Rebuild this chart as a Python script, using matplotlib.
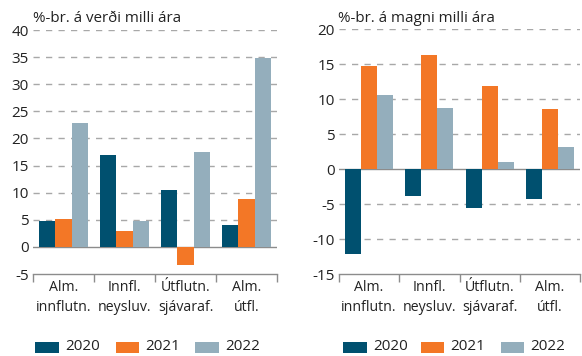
import matplotlib
matplotlib.use("Agg")
import matplotlib.pyplot as plt
import numpy as np
from matplotlib.patches import Rectangle

plt.rcParams['font.family'] = ['Open Sans', 'DejaVu Sans']

categories = ["Alm.\ninnflutn.", "Innfl.\nneysluv.", "Útflutn.\nsjávaraf.", "Alm.\nútfl."]
years = ["2020", "2021", "2022"]

# Price change, % year on year
price_2020 = [4.8, 17.0, 10.5, 4.0]
price_2021 = [5.1, 2.9, -3.3, 8.8]
price_2022 = [22.9, 4.8, 17.5, 34.8]

# Volume change, % year on year
volume_2020 = [-12.2, -3.8, -5.5, -4.3]
volume_2021 = [14.8, 16.3, 11.9, 8.6]
volume_2022 = [10.6, 8.8, 1.0, 3.1]

colors = ["#00506F", "#F37726", "#94AEBC"]
text_color = "#222222"
grid_color = "#A8A8A8"
axis_color = "#8C8C8C"

W, H = 582, 356
fig = plt.figure(figsize=(W / 100, H / 100), dpi=100)


def px_axes(x0, x1, y0, y1):
    return fig.add_axes([x0 / W, 1 - y1 / H, (x1 - x0) / W, (y1 - y0) / H])


def draw_legend(patch_x, y_center):
    # legend row drawn in figure pixel coordinates
    for i, x0 in enumerate(patch_x):
        fig.add_artist(Rectangle((x0 / W, 1 - (y_center + 5.5) / H), 23.5 / W, 11 / H,
                                 transform=fig.transFigure, facecolor=colors[i],
                                 edgecolor="none"))
        fig.text((x0 + 30) / W, 1 - y_center / H, years[i], ha="left", va="center",
                 fontsize=11, color=text_color)


def draw_panel(ax, series, ymin, ymax, step, title, title_x):
    n = len(categories)
    x = np.arange(n)
    bw = 0.8 / 3
    for i, vals in enumerate(series):
        ax.bar(x + (i - 1) * bw, vals, width=bw, color=colors[i], zorder=3, linewidth=0)
    ax.set_xlim(-0.5, n - 0.5)
    ax.set_ylim(ymin, ymax)
    ticks = np.arange(ymin, ymax + 0.1, step)
    ax.set_yticks(ticks)
    ax.set_yticklabels([f"{int(t)}" for t in ticks])
    for t in ticks:
        if t == ymin:
            continue
        if t == 0:
            ax.axhline(0, color=axis_color, lw=1.0, zorder=2)
        else:
            ax.axhline(t, color=grid_color, lw=1.0, ls=(0, (4.5, 4.5)), zorder=1)
    for s in ["top", "right", "left"]:
        ax.spines[s].set_visible(False)
    ax.spines["bottom"].set_color(axis_color)
    ax.spines["bottom"].set_linewidth(1.0)
    ax.tick_params(axis="y", length=0, pad=3, labelsize=11, colors=text_color)
    # category separators as ticks on the bottom axis
    ax.set_xticks(np.arange(-0.5, n, 1.0))
    ax.set_xticklabels([])
    ax.tick_params(axis="x", length=6, width=1.0, color=axis_color, direction="out")
    for i, c in enumerate(categories):
        ax.text(i, -0.026, c, ha="center", va="top", fontsize=10.2, color=text_color,
                transform=ax.get_xaxis_transform(), linespacing=1.45, clip_on=False)
    fig.text(title_x / W, 1 - 18 / H, title, ha="left", va="center",
             fontsize=10.9, color=text_color)


ax1 = px_axes(33, 277, 30, 274)
draw_panel(ax1, [price_2020, price_2021, price_2022], -5, 40, 5,
           "%-br. á verði milli ára", 33)
draw_legend([35, 115.5, 195.5], 347)

ax2 = px_axes(339, 580, 29.3, 274)
draw_panel(ax2, [volume_2020, volume_2021, volume_2022], -15, 20, 5,
           "%-br. á magni milli ára", 338)
draw_legend([343, 420.5, 500.5], 347)

fig.savefig("out.png", dpi=100)
